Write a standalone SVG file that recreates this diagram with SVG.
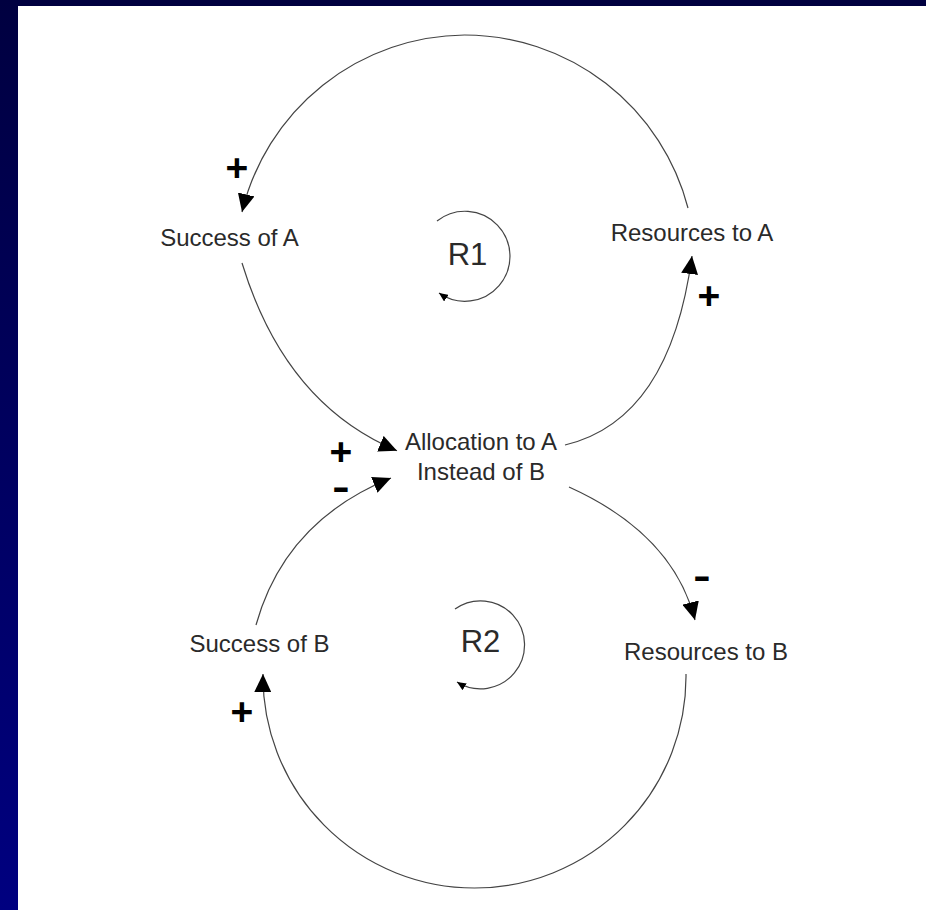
<svg xmlns="http://www.w3.org/2000/svg" width="926" height="910" viewBox="0 0 926 910">
<style>
.lbl{font-family:"Liberation Sans",Arial,sans-serif;font-size:24px;fill:#2a2a2a;text-anchor:middle}
.loop{font-family:"Liberation Sans",Arial,sans-serif;font-size:31px;fill:#2a2a2a;text-anchor:middle}
.sgn{font-family:"Liberation Sans",Arial,sans-serif;font-size:39px;font-weight:bold;fill:#000;text-anchor:middle}
.mns{font-family:"Liberation Sans",Arial,sans-serif;font-size:23px;font-weight:bold;fill:#000;stroke:#000;stroke-width:2;text-anchor:middle}
.con{fill:none;stroke:#444;stroke-width:1.2}
</style>
<defs>
<linearGradient id="side" x1="0" y1="0" x2="0" y2="1">
<stop offset="0" stop-color="#000040"/>
<stop offset="1" stop-color="#000080"/>
</linearGradient>
<marker id="ah" viewBox="0 0 18 17" markerWidth="18" markerHeight="17" markerUnits="userSpaceOnUse" refX="18" refY="8.5" orient="auto">
<path d="M0,0 L18,8.5 L0,17 z" fill="#000"/>
</marker>
<marker id="sm" viewBox="0 0 9 8" markerWidth="9" markerHeight="8" markerUnits="userSpaceOnUse" refX="9" refY="4" orient="auto">
<path d="M0,0 L9,4 L0,8 z" fill="#000"/>
</marker>
</defs>
<rect x="0" y="0" width="926" height="910" fill="#fff"/>
<rect x="0" y="0" width="926" height="6" fill="#000040"/>
<rect x="0" y="0" width="18" height="910" fill="url(#side)"/>

<g id="connectors">
<path class="con" marker-end="url(#ah)" d="M688,208 A231,231 0 0 0 464.5,35 A231,231 0 0 0 242,212"/>
<path class="con" marker-end="url(#ah)" d="M242,263 Q285,404 397,450.7"/>
<path class="con" marker-end="url(#ah)" d="M565,445 Q670,420 692,256"/>
<path class="con" marker-end="url(#ah)" d="M569,487 Q673,534 695,620"/>
<path class="con" marker-end="url(#ah)" d="M686,674 A211.5,211.5 0 0 1 474.5,888 A211.5,211.5 0 0 1 263,674"/>
<path class="con" marker-end="url(#ah)" d="M256,625 Q285,521 391,478"/>
</g>

<g id="successA"><text class="lbl" x="229.5" y="246">Success of A</text></g>
<g id="resourcesA"><text class="lbl" x="692" y="241">Resources to A</text></g>
<g id="allocation"><text class="lbl" x="481" y="450">Allocation to A</text><text class="lbl" x="481" y="480">Instead of B</text></g>
<g id="successB"><text class="lbl" x="259.5" y="652">Success of B</text></g>
<g id="resourcesB"><text class="lbl" x="706" y="660">Resources to B</text></g>

<g id="R1">
<path class="con" marker-end="url(#sm)" d="M437,221 A45,45 0 1 1 439,293"/>
<text class="loop" x="467.5" y="265">R1</text>
</g>
<g id="R2">
<path class="con" marker-end="url(#sm)" d="M455,609 A44,44 0 1 1 457,682"/>
<text class="loop" x="480.5" y="652">R2</text>
</g>

<g id="polarities">
<text class="sgn" x="237" y="181">+</text>
<text class="sgn" x="709" y="309">+</text>
<text class="sgn" x="341" y="465">+</text>
<text class="sgn" x="242" y="725">+</text>
<text class="mns" x="341" y="496">–</text>
<text class="mns" x="702" y="585">–</text>
</g>
</svg>
